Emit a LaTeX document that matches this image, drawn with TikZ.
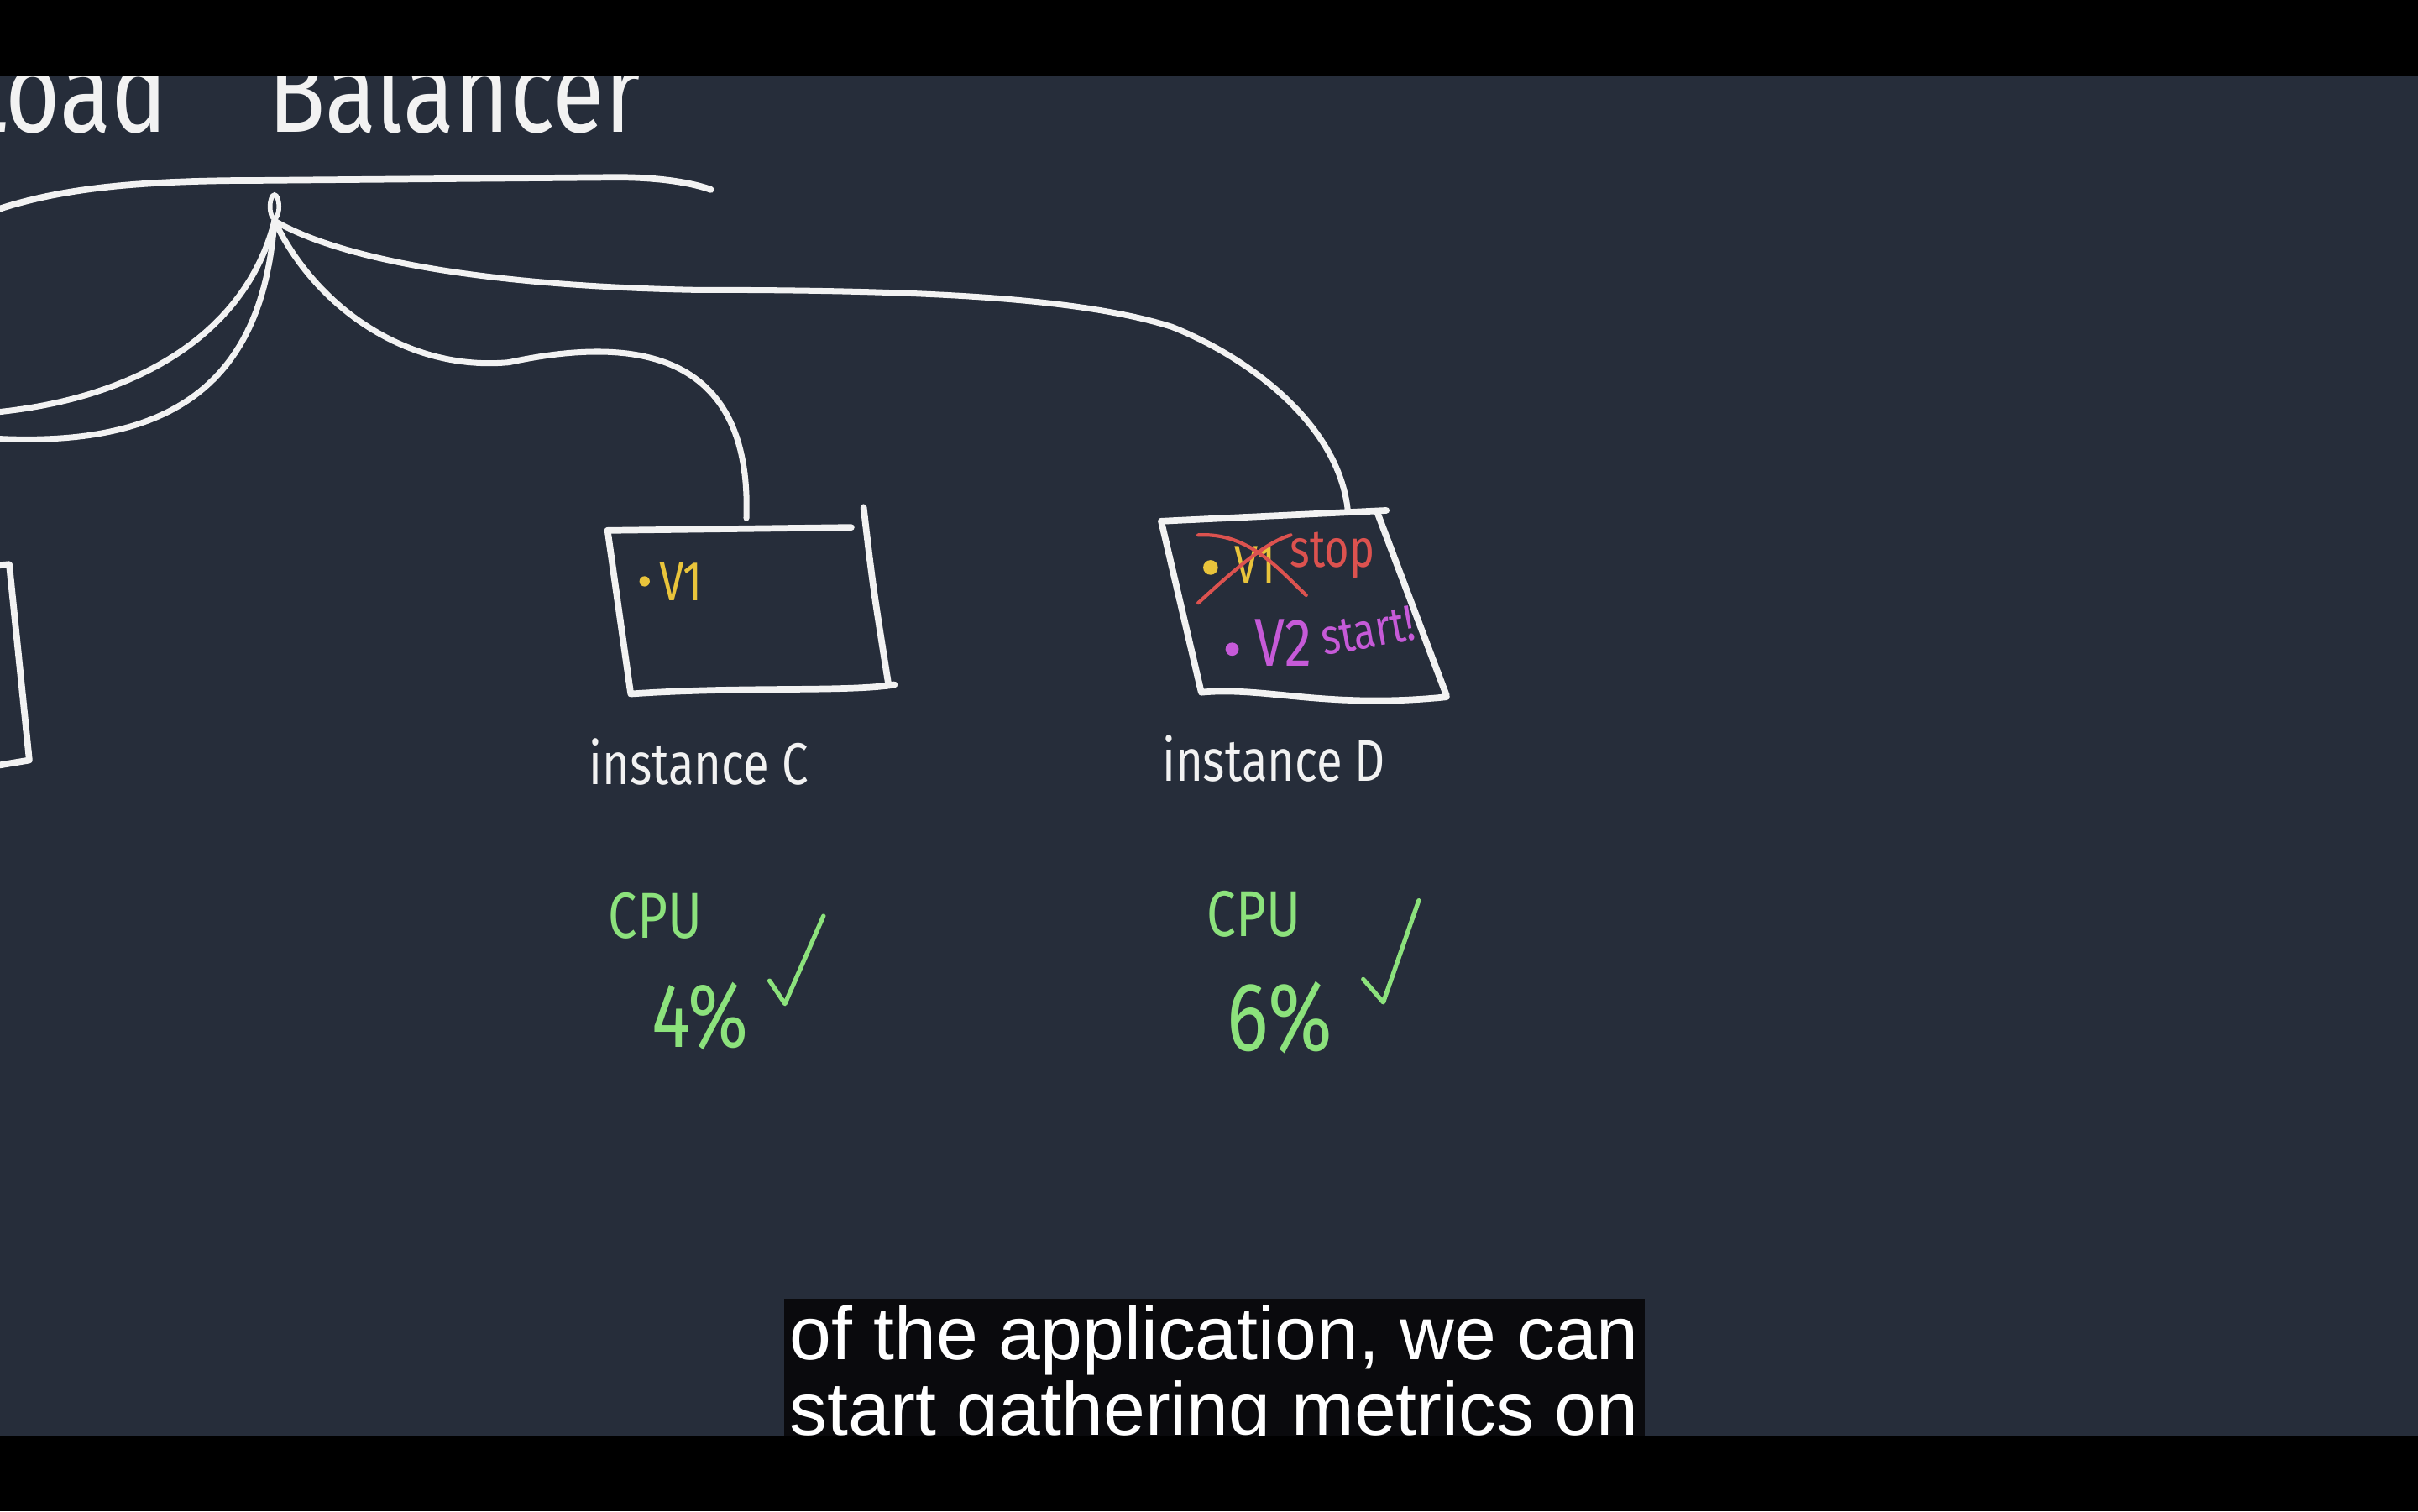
\documentclass[tikz,border=0pt]{standalone}
\usepackage{fontspec}
\setmainfont{Liberation Sans}
\newfontfamily\handfont[FakeStretch=0.8]{Fira Sans}
\usetikzlibrary{shapes.geometric}
\definecolor{Slate}{HTML}{262D3A}
\definecolor{Chalk}{HTML}{F2F2F2}
\definecolor{Amber}{HTML}{E9C43B}
\definecolor{Brick}{HTML}{DC524F}
\definecolor{Orchid}{HTML}{C65AD8}
\definecolor{Mint}{HTML}{8CE27C}
\definecolor{Ink}{HTML}{0A0A0D}

\begin{document}
\begin{tikzpicture}[x=0.018367cm,y=-0.018367cm,
    sketch/.style={draw=Chalk,line width=2.2pt,line cap=round,line join=round},
    wire/.style={draw=Chalk,line width=2pt,line cap=round},
    scrawl/.style={inner sep=0pt,font=\handfont\fontsize{#1}{#1}\selectfont},
    bullet/.style={circle,fill=#1,inner sep=0pt,minimum size=4.5pt},
    tick/.style={draw=Mint,line width=1.5pt,line cap=round,line join=round}]
    \useasboundingbox (0,0) rectangle (1568,980);
    \clip (0,0) rectangle (1568,980);
    \fill[Slate] (0,0) rectangle (1568,980);
    % heading, mostly under the top bar
    \node[scrawl=40,text=Chalk,anchor=base east] (title) at (416,86) {Load\hspace{34pt}Balancer};
    \draw[sketch] (-2,136) .. controls (40,122) and (90,117) .. (170,117) -- (400,115)
      .. controls (430,115) and (450,119) .. (461,123);
    \node[ellipse,draw=Chalk,line width=1.6pt,minimum width=3pt,minimum height=8pt,inner sep=0pt] (lb) at (178,134) {};
    % where the wires end
    \coordinate (toA) at (-10,268);
    \coordinate (toB) at (-10,284);
    \coordinate (inC) at (484,336);
    \coordinate (inD) at (874,331);
    \draw[wire] (lb.south) .. controls (160,215) and (90,260) .. (toA);
    \draw[wire] (lb.south) .. controls (170,250) and (110,292) .. (toB);
    \draw[wire] (lb.south) .. controls (205,200) and (265,241) .. (330,235)
      .. controls (400,220) and (488,220) .. (inC);
    \draw[wire] (lb.south) .. controls (215,165) and (300,185) .. (450,188)
      .. controls (600,188) and (700,193) .. (760,212)
      .. controls (810,232) and (868,275) .. (inD);
    % instance B (cut off)
    \draw[sketch] (-5,367) -- (6,366) -- (19,493) -- (-5,497);
    % instance C
    \draw[sketch] (394,344) -- (552,342);
    \draw[sketch] (560,329) .. controls (566,380) .. (576,443);
    \draw[sketch] (394,344) -- (409,450) .. controls (480,445) and (550,449) .. (580,444);
    \node[bullet=Amber,minimum size=3.5pt] (c-dot) at (418,377) {};
    \node[scrawl=19,text=Amber,anchor=west] (c-v1) at (427,377) {V1};
    \node[scrawl=20,text=Chalk] (labC) at (453,494) {instance C};
    % instance D
    \draw[sketch] (753,338) -- (899,331);
    \draw[sketch] (893,332) -- (938,451);
    \draw[sketch] (753,338) -- (779,449) .. controls (820,445) and (860,460) .. (938,452);
    \node[bullet=Amber,minimum size=5pt] (d-dot1) at (785,368) {};
    \node[scrawl=18,text=Amber] (d-v1) at (814,366) {V1};
    \draw[Brick,line width=1.2pt,line cap=round] (777,391) .. controls (800,370) and (820,352) .. (837,347);
    \draw[Brick,line width=1.2pt,line cap=round] (777,347) .. controls (810,345) and (830,370) .. (847,386);
    \node[scrawl=18,text=Brick] (d-stop) at (864,360) {stop};
    \node[bullet=Orchid] (d-dot2) at (799,421) {};
    \node[scrawl=23,text=Orchid] (d-v2) at (832,417) {V2};
    \node[scrawl=17,text=Orchid,rotate=10] (d-start) at (887,409) {start!};
    \node[scrawl=20,text=Chalk] (labD) at (826,492) {instance D};
    % cpu readings
    \node[scrawl=22,text=Mint] (cpuC) at (425,594) {CPU};
    \node[scrawl=31,text=Mint] (loadC) at (454,659) {4\%};
    \draw[tick] (499,636) -- (509,651) -- (534,594);
    \node[scrawl=22,text=Mint] (cpuD) at (813,593) {CPU};
    \node[scrawl=33,text=Mint] (loadD) at (830,660) {6\%};
    \draw[tick] (884,635) -- (897,650) -- (920,584);
    % subtitle and letterbox bars
    \node[fill=Ink,text=white,anchor=north west,align=left,inner sep=2pt,
      font=\fontsize{25.5}{25.6}\selectfont] (caption) at (508,842) {of the application, we can\\start gathering metrics on};
    \fill[black] (0,0) rectangle (1568,49);
    \fill[black] (0,931) rectangle (1568,980);
\end{tikzpicture}
\end{document}
